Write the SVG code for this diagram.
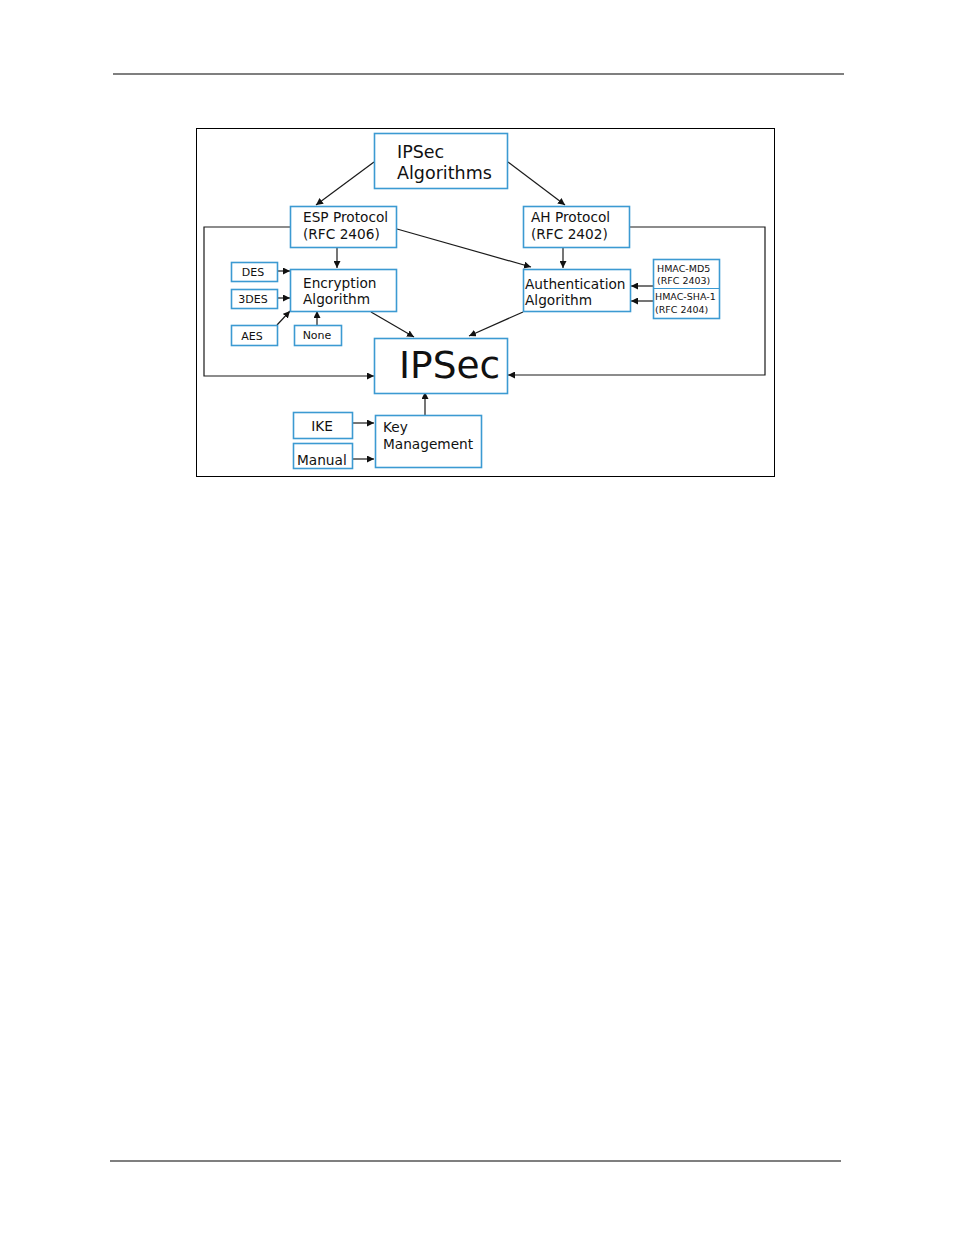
<svg xmlns="http://www.w3.org/2000/svg" width="954" height="1235" viewBox="0 0 954 1235">
<defs>
<marker id="ah" viewBox="0 0 10 10" refX="10" refY="5" markerWidth="7" markerHeight="7" markerUnits="userSpaceOnUse" orient="auto">
<path d="M0,0 L10,5 L0,10 z" fill="#111"/>
</marker>
<style>
.box{fill:#fff;stroke:#3c9ad2;stroke-width:1.6}
.t{font-family:"DejaVu Sans",Verdana,sans-serif;fill:#111}
.c{fill:none;stroke:#1a1a1a;stroke-width:1.2;marker-end:url(#ah)}
</style>
</defs>
<rect width="954" height="1235" fill="#fff"/>
<line x1="113" y1="74" x2="844" y2="74" stroke="#000" stroke-width="1.2"/>
<line x1="110" y1="1161" x2="841" y2="1161" stroke="#000" stroke-width="1.2"/>
<rect x="196.5" y="128.5" width="578" height="348" fill="#fff" stroke="#000" stroke-width="1"/>

<g id="connectors">
<line class="c" x1="374" y1="162" x2="316" y2="205"/>
<line class="c" x1="508" y1="162" x2="565" y2="205"/>
<line class="c" x1="337" y1="248" x2="337" y2="268"/>
<line class="c" x1="563" y1="248" x2="563" y2="268"/>
<line class="c" x1="397" y1="229" x2="531" y2="267"/>
<polyline class="c" points="290,227 204,227 204,376 374,376"/>
<polyline class="c" points="629,227 765,227 765,375 508,375"/>
<line class="c" x1="277" y1="271" x2="290" y2="271"/>
<line class="c" x1="277" y1="298" x2="290" y2="298"/>
<line class="c" x1="277" y1="325" x2="290" y2="311"/>
<line class="c" x1="317" y1="325" x2="317" y2="311"/>
<line class="c" x1="371" y1="312" x2="414" y2="337"/>
<line class="c" x1="523" y1="312" x2="469" y2="336"/>
<line class="c" x1="653" y1="286" x2="631" y2="286"/>
<line class="c" x1="653" y1="301" x2="631" y2="301"/>
<line class="c" x1="353" y1="423" x2="374" y2="423"/>
<line class="c" x1="353" y1="459" x2="374" y2="459"/>
<line class="c" x1="425" y1="415" x2="425" y2="392"/>
</g>

<g id="ipsec-algorithms">
<rect class="box" x="374.5" y="133.5" width="133" height="55"/>
<text class="t" x="397" y="158" font-size="17.5">IPSec</text>
<text class="t" x="397" y="179" font-size="17.5">Algorithms</text>
</g>
<g id="esp">
<rect class="box" x="290.5" y="206.5" width="106" height="41"/>
<text class="t" x="303" y="222" font-size="13.7">ESP Protocol</text>
<text class="t" x="303" y="239" font-size="13.7">(RFC 2406)</text>
</g>
<g id="ah">
<rect class="box" x="523.5" y="206.5" width="106" height="41"/>
<text class="t" x="531" y="222" font-size="13.7">AH Protocol</text>
<text class="t" x="531" y="239" font-size="13.7">(RFC 2402)</text>
</g>
<g id="des">
<rect class="box" x="231.5" y="262.5" width="46" height="19"/>
<text class="t" x="253" y="276" font-size="11" text-anchor="middle">DES</text>
</g>
<g id="3des">
<rect class="box" x="231.5" y="289.5" width="46" height="19"/>
<text class="t" x="253" y="303" font-size="11" text-anchor="middle">3DES</text>
</g>
<g id="aes">
<rect class="box" x="231.5" y="325.5" width="46" height="20"/>
<text class="t" x="252" y="340" font-size="11" text-anchor="middle">AES</text>
</g>
<g id="none">
<rect class="box" x="294.5" y="325.5" width="47" height="20"/>
<text class="t" x="317" y="339" font-size="11" text-anchor="middle">None</text>
</g>
<g id="encryption">
<rect class="box" x="290.5" y="269.5" width="106" height="42"/>
<text class="t" x="303" y="288" font-size="13.7">Encryption</text>
<text class="t" x="303" y="304" font-size="13.7">Algorithm</text>
</g>
<g id="authentication">
<rect class="box" x="523.5" y="269.5" width="107" height="42"/>
<text class="t" x="525" y="289" font-size="13.7">Authentication</text>
<text class="t" x="525" y="305" font-size="13.7">Algorithm</text>
</g>
<g id="hmac">
<rect class="box" x="653.5" y="259.5" width="66" height="59"/>
<line x1="653.5" y1="288.5" x2="719.5" y2="288.5" stroke="#3c9ad2" stroke-width="1.2"/>
<text class="t" x="657" y="272" font-size="9.5">HMAC-MD5</text>
<text class="t" x="657" y="284" font-size="9.5">(RFC 2403)</text>
<text class="t" x="655" y="300" font-size="9.5">HMAC-SHA-1</text>
<text class="t" x="655" y="313" font-size="9.5">(RFC 2404)</text>
</g>
<g id="ipsec">
<rect class="box" x="374.5" y="338.5" width="133" height="55"/>
<text class="t" x="399" y="378" font-size="37.5">IPSec</text>
</g>
<g id="ike">
<rect class="box" x="293.5" y="412.5" width="59" height="26"/>
<text class="t" x="322" y="431" font-size="13.7" text-anchor="middle">IKE</text>
</g>
<g id="manual">
<rect class="box" x="293.5" y="443.5" width="59" height="25"/>
<text class="t" x="297" y="465" font-size="13.7">Manual</text>
</g>
<g id="key-management">
<rect class="box" x="375.5" y="415.5" width="106" height="52"/>
<text class="t" x="383" y="432" font-size="13.7">Key</text>
<text class="t" x="383" y="449" font-size="13.7">Management</text>
</g>
</svg>
